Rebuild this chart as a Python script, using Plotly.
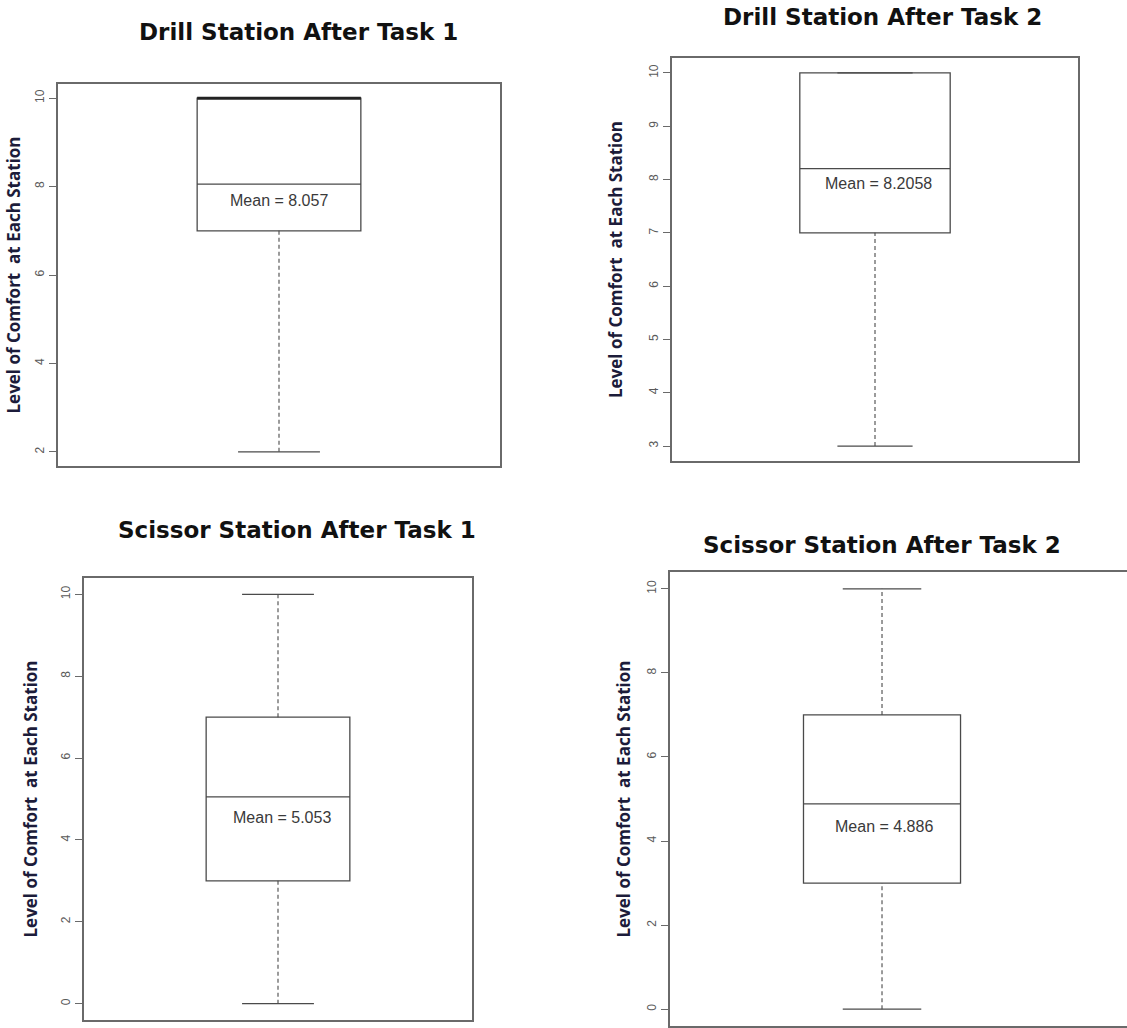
import plotly.graph_objects as go

# ---- data ----
titles = ["Drill Station After Task 1", "Drill Station After Task 2",
          "Scissor Station After Task 1", "Scissor Station After Task 2"]
lower_whisker = [2, 3, 0, 0]
q1 = [7, 7, 3, 3]
q3 = [10, 10, 7, 7]
upper_whisker = [10, 10, 10, 10]
means = [8.057, 8.2058, 5.053, 4.886]
mean_labels = ["Mean = 8.057", "Mean = 8.2058", "Mean = 5.053", "Mean = 4.886"]
bold_median = [10, None, None, None]
y_ticks = [[2, 4, 6, 8, 10], [3, 4, 5, 6, 7, 8, 9, 10],
           [0, 2, 4, 6, 8, 10], [0, 2, 4, 6, 8, 10]]
y_title = "Level of Comfort\u00a0 at Each Station"

# ---- layout geometry (pixels in a 1127x1028 page) ----
W, H = 1127, 1028
frames = [  # left, right, top, bottom
    (58, 500, 84, 466),
    (672, 1078, 58, 461),
    (84, 472, 578, 1020),
    (670, 1127, 572, 1026),
]
x_ranges = [[0.46, 1.54], [0.46, 1.54], [0.46, 1.54], [0.46, 1.624]]
y_ranges = [[1.68, 10.32], [2.72, 10.28], [-0.4, 10.4], [-0.4, 10.4]]
title_pos = [(298, 32), (882, 17), (297, 530), (882, 545)]
label_shift = [(0, -16), (3, -15), (4, -21), (2, -23)]
title_standoff = [8, 20, 17, 10]

BOX_W = 0.4
CAP_HALF = 0.1
LINE = "#4a4a4a"
FRAME = "#6a6a6a"

fig = go.Figure()
layout = dict(
    width=W, height=H, margin=dict(l=0, r=0, t=0, b=0),
    paper_bgcolor="white", plot_bgcolor="white", showlegend=False,
    annotations=[],
)

for i in range(4):
    n = "" if i == 0 else str(i + 1)
    xa, ya = "x" + n, "y" + n
    # box
    fig.add_trace(go.Box(
        x=[1], q1=[q1[i]], median=[means[i]], q3=[q3[i]],
        lowerfence=[q1[i]], upperfence=[q3[i]],
        width=BOX_W, whiskerwidth=0, boxpoints=False,
        line=dict(color=LINE, width=1.3), fillcolor="rgba(255,255,255,0)",
        xaxis=xa, yaxis=ya, hoverinfo="skip",
    ))
    # whiskers (dashed)
    for y0, y1 in [(lower_whisker[i], q1[i]), (q3[i], upper_whisker[i])]:
        if y1 > y0:
            fig.add_trace(go.Scatter(
                x=[1, 1], y=[y0, y1], mode="lines",
                line=dict(color=LINE, width=1.1, dash="4px,3px"),
                xaxis=xa, yaxis=ya, hoverinfo="skip"))
    # caps
    for yv in [lower_whisker[i], upper_whisker[i]]:
        fig.add_trace(go.Scatter(
            x=[1 - CAP_HALF, 1 + CAP_HALF], y=[yv, yv], mode="lines",
            line=dict(color=LINE, width=1.3),
            xaxis=xa, yaxis=ya, hoverinfo="skip"))
    # bold median line
    if bold_median[i] is not None:
        fig.add_trace(go.Scatter(
            x=[1 - BOX_W / 2, 1 + BOX_W / 2], y=[bold_median[i]] * 2,
            mode="lines", line=dict(color="#222222", width=3),
            xaxis=xa, yaxis=ya, hoverinfo="skip"))

    l, r, t, b = frames[i]
    layout["xaxis" + n] = dict(
        domain=[l / W, r / W], range=x_ranges[i], anchor=ya,
        showticklabels=False, ticks="", showgrid=False, zeroline=False,
        showline=True, mirror=True, linecolor=FRAME, linewidth=1.6,
    )
    layout["yaxis" + n] = dict(
        domain=[(H - b) / H, (H - t) / H], range=y_ranges[i], anchor=xa,
        tickvals=y_ticks[i], ticktext=[str(v) for v in y_ticks[i]],
        tickangle=-90, ticks="outside", ticklen=7, tickcolor=FRAME, tickwidth=1.2,
        tickfont=dict(family="Liberation Sans, Arial", size=12, color="#5a5a5a"),
        showgrid=False, zeroline=False,
        showline=True, mirror=(i != 3), linecolor=FRAME, linewidth=1.6,
        title=dict(text=y_title, standoff=title_standoff[i],
                   font=dict(family="Open Sans", size=17, color="#1c1c3a",
                             weight="bold")),
    )
    tx, ty = title_pos[i]
    layout["annotations"].append(dict(
        text="<b>" + titles[i] + "</b>", x=tx / W, y=(H - ty) / H,
        xref="paper", yref="paper", xanchor="center", yanchor="middle",
        showarrow=False, font=dict(family="DejaVu Sans", size=23, color="#111111")))
    dx, dy = label_shift[i]
    layout["annotations"].append(dict(
        text=mean_labels[i], x=1, y=means[i], xref=xa, yref=ya,
        xshift=dx, yshift=dy, xanchor="center", yanchor="middle",
        showarrow=False,
        font=dict(family="Liberation Sans, Arial", size=16, color="#3a3a3a")))

fig.update_layout(**layout)
fig.write_html("out.html", config={"displayModeBar": False},
               post_script="document.body.style.margin='0';document.body.style.overflow='hidden';")
